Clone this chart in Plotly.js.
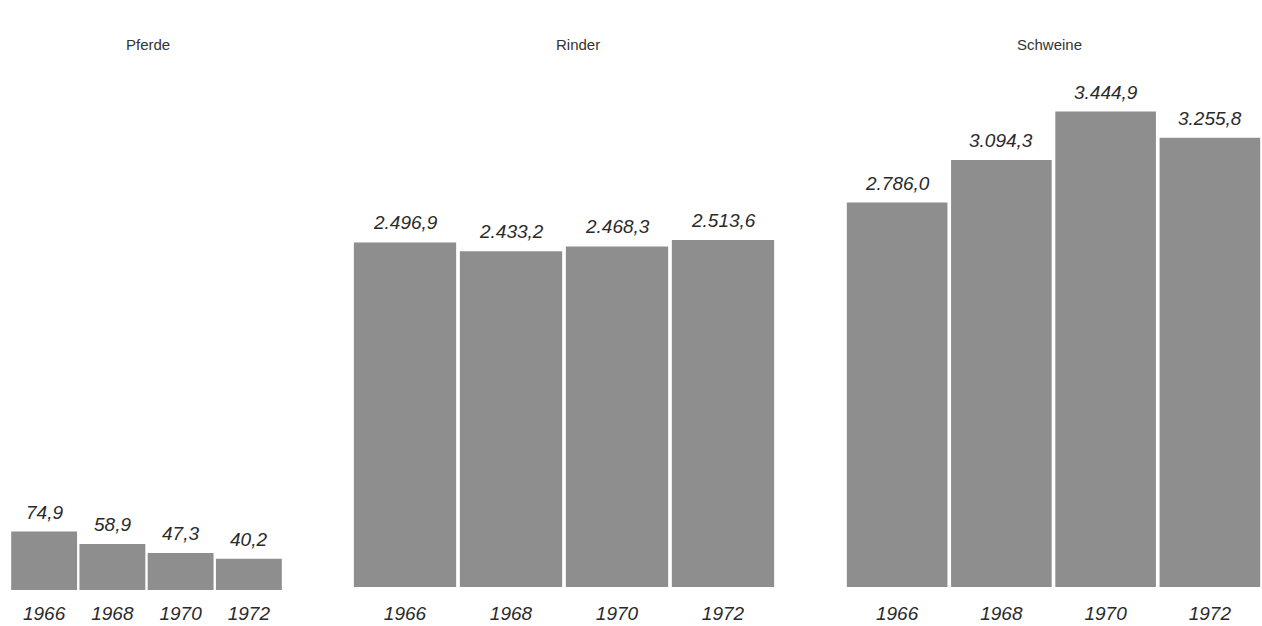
<!DOCTYPE html>
<html><head><meta charset="utf-8">
<script src="https://cdn.plot.ly/plotly-3.0.1.min.js"></script>
<style>html,body{margin:0;padding:0;background:#fff}#c{width:1262px;height:626px}</style>
</head><body><div id="c"></div>
<script>
const years = ['1966','1968','1970','1972'];
const panels = ['Pferde','Rinder','Schweine'];
const pferde = [74.9, 58.9, 47.3, 40.2];
const rinder = [2496.9, 2433.2, 2468.3, 2513.6];
const schweine = [2786.0, 3094.3, 3444.9, 3255.8];

function fmt(v){
  const parts = v.toFixed(1).split('.');
  const intPart = parts[0].replace(/\B(?=(\d{3})+(?!\d))/g, '.');
  return intPart + ',' + parts[1];
}

const barColor = '#8e8e8e';
const series = [pferde, rinder, schweine];
const axSuffix = ['', '2', '3'];
const traces = series.map((vals, i) => ({
  type: 'bar', x: years, y: vals,
  xaxis: 'x' + axSuffix[i], yaxis: 'y' + axSuffix[i],
  marker: {color: barColor, line: {width: 0}},
  hoverinfo: 'skip', showlegend: false
}));

const labelFont = {family: 'Liberation Sans, Arial, sans-serif', size: 19, color: '#2a2a2a', style: 'italic'};
const annotations = [];
series.forEach((vals, i) => {
  vals.forEach((v, j) => {
    annotations.push({
      x: j, y: v, xref: 'x' + axSuffix[i], yref: 'y' + axSuffix[i],
      text: fmt(v), showarrow: false, yanchor: 'bottom', yshift: 7,
      font: labelFont
    });
  });
});
const titleX = [0.117, 0.458, 0.832];
panels.forEach((p, i) => {
  annotations.push({
    x: titleX[i], y: 1.114, xref: 'paper', yref: 'paper',
    text: p, showarrow: false, xanchor: 'center', yanchor: 'middle',
    font: {family: 'Liberation Sans, Arial, sans-serif', size: 15, color: '#333'}
  });
});

const xBase = {
  type: 'category', showgrid: false, zeroline: false, showline: false,
  autorange: false, range: [-0.5, 3.5],
  ticks: '', ticklabelstandoff: 13,
  tickfont: {family: 'Liberation Sans, Arial, sans-serif', size: 19, color: '#2a2a2a', style: 'italic'},
  fixedrange: true
};
const yBase = {showgrid: false, zeroline: false, showline: false, showticklabels: false, ticks: '', fixedrange: true, autorange: false};

const layout = {
  width: 1262, height: 626,
  margin: {l: 0, r: 0, t: 100, b: 36},
  paper_bgcolor: '#fff', plot_bgcolor: '#fff',
  bargap: 0.035,
  xaxis: Object.assign({}, xBase, {domain: [10/1262, 283/1262], anchor: 'y', ticklabelstandoff: 10}),
  xaxis2: Object.assign({}, xBase, {domain: [352/1262, 776/1262], anchor: 'y2'}),
  xaxis3: Object.assign({}, xBase, {domain: [845/1262, 1], anchor: 'y3'}),
  yaxis: Object.assign({}, yBase, {range: [0, 628], domain: [0, 1], anchor: 'x'}),
  yaxis2: Object.assign({}, yBase, {range: [0, 3529], domain: [3/490, 1], anchor: 'x2'}),
  yaxis3: Object.assign({}, yBase, {range: [0, 3529], domain: [3/490, 1], anchor: 'x3'}),
  annotations: annotations
};

Plotly.newPlot('c', traces, layout, {staticPlot: true, displayModeBar: false});
</script>
</body></html>
